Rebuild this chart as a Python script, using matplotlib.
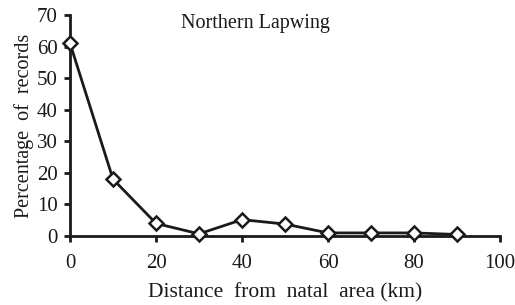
import matplotlib
matplotlib.use("Agg")
import matplotlib.pyplot as plt

distance = [0, 10, 20, 30, 40, 50, 60, 70, 80, 90]
percentage = [61, 18, 4, 0.7, 5.2, 3.8, 1.0, 1.0, 1.0, 0.5]
xticks = [0, 20, 40, 60, 80, 100]
yticks = [0, 10, 20, 30, 40, 50, 60, 70]

plt.rcParams['font.family'] = ['Liberation Serif', 'DejaVu Serif']

fig = plt.figure(figsize=(5.15, 3.05), dpi=100)
ax = fig.add_axes([0.136, 0.226, 0.835, 0.725])
ax.plot(distance, percentage, color='#1a1a1a', lw=2, marker='D', ms=7,
        mfc='white', mec='#1a1a1a', mew=1.8, clip_on=False, zorder=3)
ax.set_xlim(0, 100)
ax.set_ylim(0, 70)
ax.set_xticks(xticks)
ax.set_yticks(yticks)
for s in ['top', 'right']:
    ax.spines[s].set_visible(False)
for s in ['left', 'bottom']:
    ax.spines[s].set_linewidth(2)
    ax.spines[s].set_color('#1a1a1a')
ax.tick_params(direction='out', width=2, length=4, labelsize=15, colors='#1a1a1a', pad=5)
ax.tick_params(axis='x', pad=9)
ax.set_xlabel('Distance  from  natal  area (km)', fontsize=15.5, color='#1a1a1a', labelpad=7)
ax.set_ylabel('Percentage  of  records', fontsize=14.5, color='#1a1a1a', labelpad=2)
ax.text(43, 67.3, 'Northern Lapwing', fontsize=14.5, ha='center', va='center', color='#1a1a1a')
fig.savefig('out.png', dpi=100)
